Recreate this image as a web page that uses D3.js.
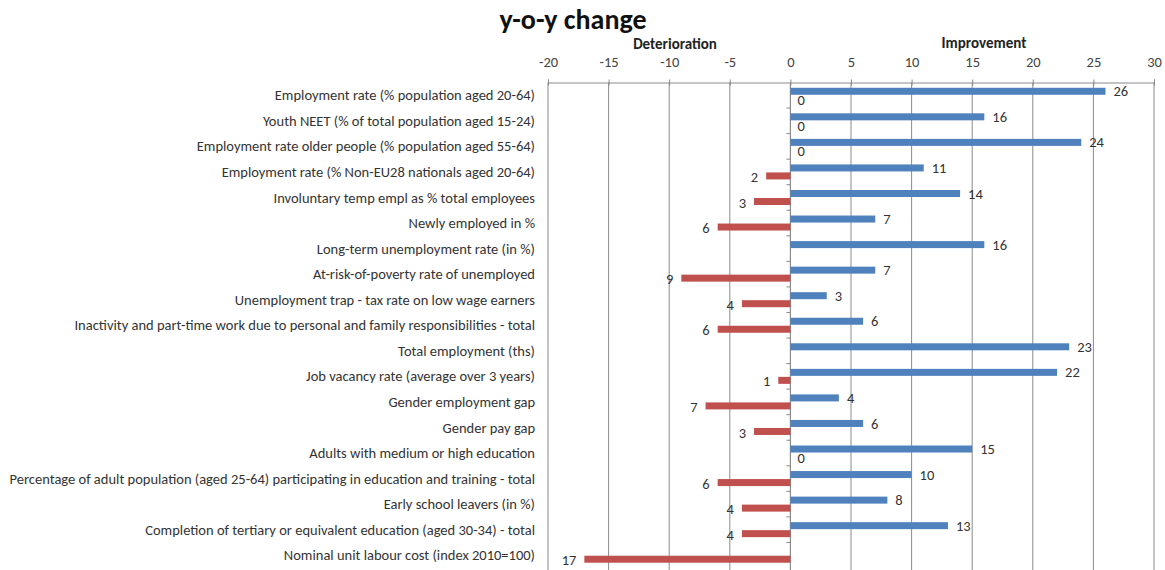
<!DOCTYPE html>
<html>
<head>
<meta charset="utf-8">
<script src="https://cdn.jsdelivr.net/npm/d3@7/dist/d3.min.js"></script>
<style>
  body { margin: 0; background: #fff; }
  svg { font-family: Carlito, Calibri, Lato, sans-serif; }
</style>
</head>
<body>
<div id="chart"></div>
<script>
// Indicators (top to bottom)
const categories = [
  'Employment rate (% population aged 20-64)',
  'Youth NEET (% of total population aged 15-24)',
  'Employment rate older people (% population aged 55-64)',
  'Employment rate (% Non-EU28 nationals aged 20-64)',
  'Involuntary temp empl as % total employees',
  'Newly employed in %',
  'Long-term unemployment rate (in %)',
  'At-risk-of-poverty rate of unemployed',
  'Unemployment trap - tax rate on low wage earners',
  'Inactivity and part-time work due to personal and family responsibilities - total',
  'Total employment (ths)',
  'Job vacancy rate (average over 3 years)',
  'Gender employment gap',
  'Gender pay gap',
  'Adults with medium or high education',
  'Percentage of adult population (aged 25-64) participating in education and training - total',
  'Early school leavers (in %)',
  'Completion of tertiary or equivalent education (aged 30-34) - total',
  'Nominal unit labour cost (index 2010=100)'
];
// number of countries improving / deteriorating (null = no bar)
const improvement  = [26, 16, 24, 11, 14, 7, 16, 7, 3, 6, 23, 22, 4, 6, 15, 10, 8, 13, null];
const deterioration = [0, 0, 0, -2, -3, -6, null, -9, -4, -6, null, -1, -7, -3, 0, -6, -4, -4, -17];
const xTicks = [-20, -15, -10, -5, 0, 5, 10, 15, 20, 25, 30];

const width = 1165, height = 570;
const svg = d3.select('#chart').append('svg')
  .attr('width', width)
  .attr('height', height);

const x = d3.scaleLinear().domain([-20, 30]).range([548, 1154]);
const y = d3.scaleBand().domain(categories).range([82.5, 568]);
const bw = y.bandwidth();
const barH = 7;
const gridColor = '#8a8a8a';
const labelSize = 14.5;

// Title and side headings
svg.append('text')
  .attr('x', 573).attr('y', 29)
  .attr('text-anchor', 'middle')
  .attr('font-size', 28).attr('font-weight', 'bold')
  .attr('fill', '#111')
  .text('y-o-y change');

svg.append('text')
  .attr('x', 675).attr('y', 49)
  .attr('text-anchor', 'middle')
  .attr('font-size', 15).attr('font-weight', 'bold')
  .attr('fill', '#222')
  .text('Deterioration');

svg.append('text')
  .attr('x', 984).attr('y', 48)
  .attr('text-anchor', 'middle')
  .attr('font-size', 15).attr('font-weight', 'bold')
  .attr('fill', '#222')
  .text('Improvement');

// Vertical gridlines
svg.append('g')
  .selectAll('line')
  .data(xTicks)
  .join('line')
  .attr('x1', d => x(d)).attr('x2', d => x(d))
  .attr('y1', y.range()[0]).attr('y2', height)
  .attr('stroke', gridColor).attr('stroke-width', 1);

// Top value axis
const axisTop = svg.append('g')
  .attr('transform', `translate(0,${y.range()[0]})`)
  .call(d3.axisTop(x).tickValues(xTicks).tickSize(3).tickPadding(13).tickFormat(d => String(d)));
axisTop.select('.domain').attr('stroke', gridColor);
axisTop.selectAll('.tick line').attr('stroke', gridColor).attr('y2', -3).attr('y1', 3);
axisTop.selectAll('.tick text')
  .attr('font-family', 'Carlito, Calibri, Lato, sans-serif')
  .attr('font-size', 14.5).attr('fill', '#444');

// Category axis at zero
svg.append('line')
  .attr('x1', x(0)).attr('x2', x(0))
  .attr('y1', y.range()[0]).attr('y2', height)
  .attr('stroke', gridColor);
svg.append('g')
  .selectAll('line')
  .data(categories.slice(1))
  .join('line')
  .attr('x1', x(0) - 4).attr('x2', x(0))
  .attr('y1', d => y(d)).attr('y2', d => y(d))
  .attr('stroke', gridColor);

// Category labels
svg.append('g')
  .selectAll('text')
  .data(categories)
  .join('text')
  .attr('x', 535)
  .attr('y', d => y(d) + bw / 2)
  .attr('dy', '0.35em')
  .attr('text-anchor', 'end')
  .attr('font-size', labelSize)
  .attr('fill', '#333')
  .text(d => d);

// Bars
const blueData = categories.map((c, i) => ({ c, v: improvement[i] })).filter(d => d.v !== null);
const redData = categories.map((c, i) => ({ c, v: deterioration[i] })).filter(d => d.v !== null);

svg.append('g')
  .selectAll('rect')
  .data(blueData)
  .join('rect')
  .attr('x', x(0))
  .attr('y', d => y(d.c) + bw / 2 - barH - 0.5)
  .attr('width', d => x(d.v) - x(0))
  .attr('height', barH)
  .attr('fill', '#4f81bd');

svg.append('g')
  .selectAll('rect')
  .data(redData)
  .join('rect')
  .attr('x', d => x(d.v))
  .attr('y', d => y(d.c) + bw / 2 + 0.5)
  .attr('width', d => x(0) - x(d.v))
  .attr('height', barH)
  .attr('fill', '#c0504d');

// Value labels
svg.append('g')
  .selectAll('text')
  .data(blueData)
  .join('text')
  .attr('x', d => x(d.v) + 8)
  .attr('y', d => y(d.c) + bw / 2 - barH / 2 - 0.5)
  .attr('dy', '0.35em')
  .attr('font-size', labelSize)
  .attr('fill', '#333')
  .text(d => d.v);

svg.append('g')
  .selectAll('text')
  .data(redData)
  .join('text')
  .attr('x', d => d.v === 0 ? x(0) + 7 : x(d.v) - 8)
  .attr('y', d => y(d.c) + bw / 2 + barH / 2 + 1.5)
  .attr('dy', '0.35em')
  .attr('text-anchor', d => d.v === 0 ? 'start' : 'end')
  .attr('font-size', labelSize)
  .attr('fill', '#333')
  .text(d => Math.abs(d.v));
</script>
</body>
</html>
